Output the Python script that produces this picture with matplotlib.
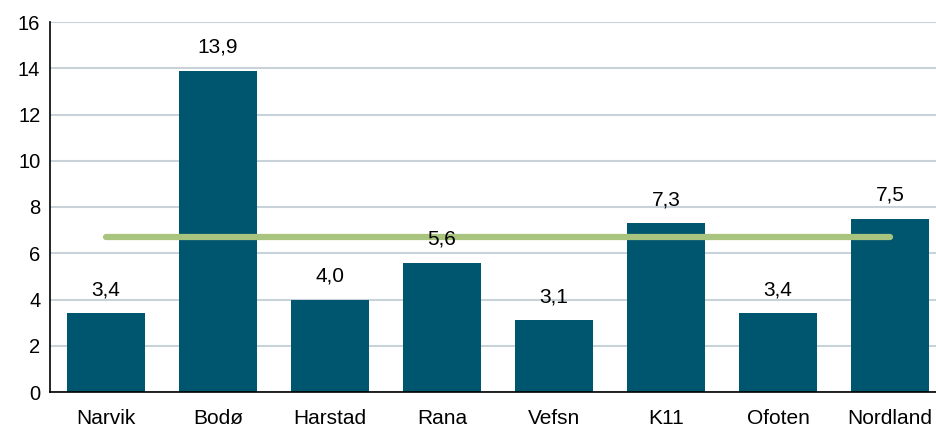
import matplotlib.pyplot as plt

# data
regions = ['Narvik', 'Bodø', 'Harstad', 'Rana', 'Vefsn', 'K11', 'Ofoten', 'Nordland']
values = [3.4, 13.9, 4.0, 5.6, 3.1, 7.3, 3.4, 7.5]
avg_line = [6.7] * len(regions)
y_ticks = [0, 2, 4, 6, 8, 10, 12, 14, 16]

plt.rcParams['font.family'] = ['Liberation Sans', 'DejaVu Sans']

fig = plt.figure(figsize=(9.36, 4.26), dpi=100)
ax = fig.add_axes([50 / 936, 34 / 426, 896 / 936, 370 / 426])

x = range(len(regions))
bars = ax.bar(x, values, width=0.7, color='#00566f', zorder=2)
ax.plot(x, avg_line, color='#a9c47f', linewidth=4.5, solid_capstyle='round', zorder=3)

for xi, v in zip(x, values):
    ax.annotate(f'{v:.1f}'.replace('.', ','), (xi, v), xytext=(0, 10),
                textcoords='offset points', ha='center', va='bottom', fontsize=15)

ax.set_xlim(-0.5, len(regions) - 0.5)
ax.set_ylim(0, 16)
ax.set_yticks(y_ticks)
ax.set_xticks(list(x))
ax.set_xticklabels(regions)
ax.tick_params(axis='both', length=0, labelsize=15)
ax.tick_params(axis='y', labelsize=14.5)
ax.tick_params(axis='x', pad=12)
ax.tick_params(axis='y', pad=7)
ax.grid(axis='y', color='#c9d1d9', linewidth=1.5, zorder=0)
ax.set_axisbelow(True)

for s in ['top', 'right']:
    ax.spines[s].set_visible(False)
ax.spines['left'].set_linewidth(1.2)
ax.spines['bottom'].set_linewidth(1.2)

fig.savefig('out.png', dpi=100)
